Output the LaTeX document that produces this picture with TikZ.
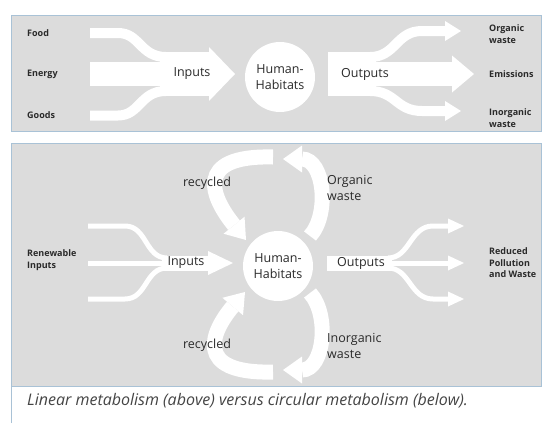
\documentclass[tikz,border=0pt]{standalone}
\usepackage{fontspec}
\setmainfont{Open Sans}
\usetikzlibrary{arrows.meta}
\definecolor{panelgray}{HTML}{DCDCDC}
\definecolor{panelline}{HTML}{A9C2D6}
\definecolor{txtgray}{HTML}{2A2A2A}
\definecolor{capgray}{HTML}{444444}
\tikzset{%
  % panels and flows
      panel/.style = {fill=panelgray, draw=panelline, line width=0.8pt},
       band/.style = {draw=white, line width=#1},
       band/.default = 5pt,
     bigtip/.style = {-{Triangle[length=26pt,width=54pt,line width=0pt]}},
     midtip/.style = {-{Triangle[length=22pt,width=37pt,line width=0pt]}},
   smalltip/.style = {-{Triangle[length=16pt,width=20pt,line width=0pt]}},
    thintip/.style = {-{Triangle[length=16pt,width=15pt,line width=0pt]}},
      intip/.style = {-{Triangle[length=25pt,width=24pt,line width=0pt]}},
    looptip/.style = {-{Triangle[length=19pt,width=27pt,line width=0pt]}},
  % texts
        lbl/.style = {font=\bfseries\fontsize{9}{11.5}\selectfont, text=txtgray,
                      align=left, anchor=west, inner sep=0pt},
        big/.style = {font=\fontsize{12.5}{15.5}\selectfont, text=txtgray,
                      inner sep=0pt},
    habitat/.style = {big, circle, fill=white, minimum size=70pt, align=center},
}

\begin{document}
\begin{tikzpicture}[x=1pt, y=-1pt]
  \useasboundingbox (0,0) rectangle (545,423);
  % the two panels and the caption box
  \draw[panel] (11.5,15.5) rectangle (541,131);
  \draw[panel] (11.5,143.5) rectangle (541,386);
  \draw[panelline, line width=0.8pt] (11.5,423) -- (11.5,386);

  % linear metabolism (above)
  \draw[band=10pt] (90,33) -- (118,33) .. controls (140,33) and (140,57) .. (166,57);
  \draw[band=24pt] (90,74) -- (166,74);
  \draw[band=10pt] (90,115.5) -- (118,115.5) .. controls (140,115.5) and (140,91) .. (166,91);
  \draw[band=44pt, bigtip] (160,74) -- (235,74);
  \draw[band=44pt] (328,74) -- (376,74);
  \draw[band=10pt, smalltip] (370,57) .. controls (396,57) and (396,31) .. (422,31) -- (461,31);
  \draw[band=24pt, midtip] (370,74) -- (474,74);
  \draw[band=10pt, smalltip] (370,91) .. controls (396,91) and (396,111) .. (422,111) -- (461,111);

  \node (food)   [lbl] at (27,33)  {Food};
  \node (energy) [lbl] at (27,74)  {Energy};
  \node (goods)  [lbl] at (27,115) {Goods};
  \node (in1)    [big] at (192,74) {Inputs};
  \node (hab1)   [habitat] at (280,77) {Human-\\Habitats};
  \node (out1)   [big] at (365,74) {Outputs};
  \node (orgw)   [lbl] at (489,34)  {Organic\\waste};
  \node (emis)   [lbl] at (489,74)  {Emissions};
  \node (inorgw) [lbl] at (489,118) {Inorganic\\waste};

  % circular metabolism (below)
  \draw[band] (88,226) -- (125,226) .. controls (147,226) and (145,258) .. (167,258);
  \draw[band] (88,263) -- (167,263);
  \draw[band] (88,299) -- (125,299) .. controls (147,299) and (145,268) .. (167,268);
  \draw[band=15pt, intip] (162,263) -- (233,263);
  \draw[band=15pt] (327,263) -- (392,263);
  \draw[band, thintip] (388,258) .. controls (410,258) and (410,226) .. (433,226) -- (464,226);
  \draw[band, thintip] (388,263) -- (464,263);
  \draw[band, thintip] (388,268) .. controls (410,268) and (410,299) .. (433,299) -- (464,299);
  % loops
  \draw[band=15pt, looptip] (310,236) .. controls (330,214) and (324,159) .. (283,159);
  \draw[band=15pt, looptip] (273,157) .. controls (192,155) and (212,198) .. (246,240);
  \draw[band=15pt, looptip] (310,293) .. controls (330,315) and (324,370) .. (283,370);
  \draw[band=15pt, looptip] (273,372) .. controls (192,374) and (212,331) .. (245,292);

  \node (renew)  [lbl] at (27,260) {Renewable\\Inputs};
  \node (in2)    [big] at (186,263) {Inputs};
  \node (hab2)   [habitat] at (278,266) {Human-\\Habitats};
  \node (out2)   [big] at (361,263) {Outputs};
  \node (reduce) [lbl] at (489,263) {Reduced\\Pollution\\and Waste};
  \node (recy1)  [big] at (207,183) {recycled};
  \node (orgw2)  [big, align=left, anchor=west] at (327,188) {Organic\\waste};
  \node (recy2)  [big] at (207,345) {recycled};
  \node (inorg2) [big, align=left, anchor=west] at (327,346) {Inorganic\\waste};

  % caption
  \node (caption) [anchor=west, inner sep=0pt, text=capgray,
    font=\itshape\fontsize{16}{19}\selectfont] at (27,401)
    {Linear metabolism (above) versus circular metabolism (below).};
\end{tikzpicture}
\end{document}
